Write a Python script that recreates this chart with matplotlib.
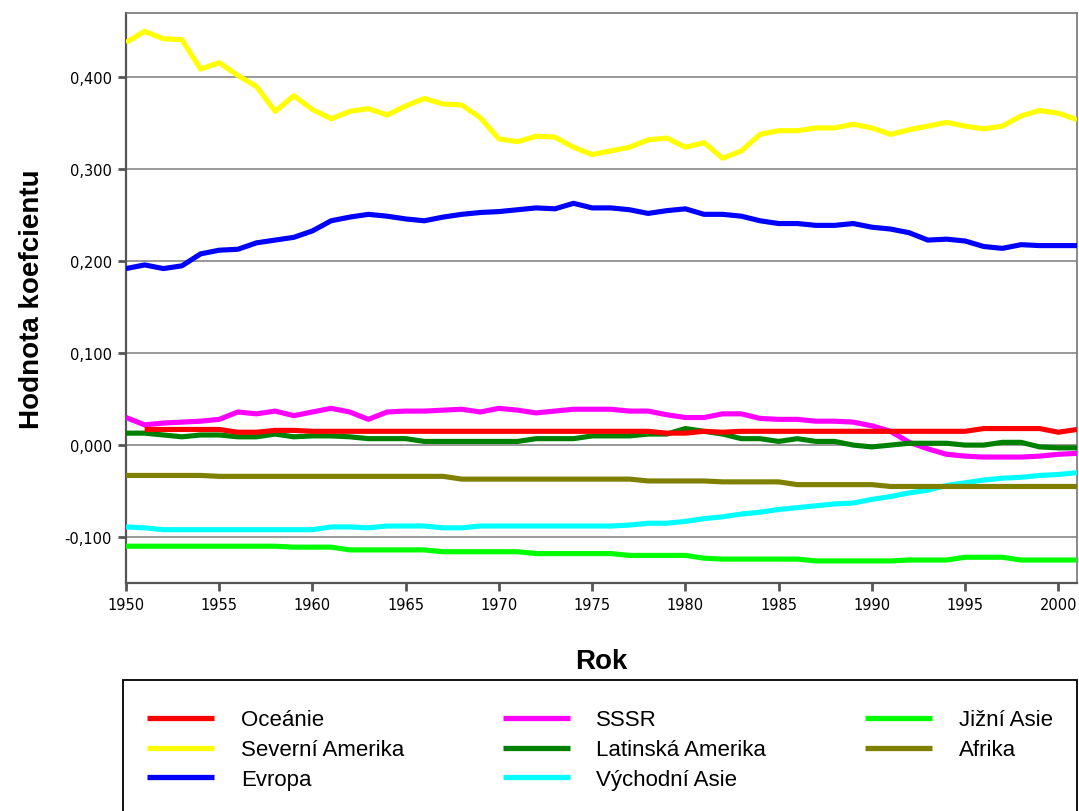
import numpy as np
import matplotlib
matplotlib.use("Agg")
import matplotlib.pyplot as plt
from matplotlib.patches import Rectangle

# roky 1950-2001
roky = np.arange(1950, 2002)

oceanie = [np.nan, 0.017, 0.017, 0.017, 0.017, 0.017, 0.014, 0.014, 0.016, 0.016,
           0.015, 0.015, 0.015, 0.015, 0.015, 0.015, 0.015, 0.015, 0.015, 0.015,
           0.015, 0.015, 0.015, 0.015, 0.015, 0.015, 0.015, 0.015, 0.015, 0.013,
           0.013, 0.015, 0.014, 0.015, 0.015, 0.015, 0.015, 0.015, 0.015, 0.015,
           0.015, 0.015, 0.015, 0.015, 0.015, 0.015, 0.018, 0.018, 0.018, 0.018,
           0.014, 0.017]
sev_amerika = [0.438, 0.450, 0.442, 0.441, 0.409, 0.416, 0.402, 0.390, 0.363, 0.380,
               0.365, 0.355, 0.363, 0.366, 0.359, 0.369, 0.377, 0.371, 0.370, 0.356,
               0.333, 0.330, 0.336, 0.335, 0.324, 0.316, 0.320, 0.324, 0.332, 0.334,
               0.324, 0.329, 0.312, 0.320, 0.338, 0.342, 0.342, 0.345, 0.345, 0.349,
               0.345, 0.338, 0.343, 0.347, 0.351, 0.347, 0.344, 0.347, 0.358, 0.364,
               0.361, 0.354]
evropa = [0.192, 0.196, 0.192, 0.195, 0.208, 0.212, 0.213, 0.220, 0.223, 0.226,
          0.233, 0.244, 0.248, 0.251, 0.249, 0.246, 0.244, 0.248, 0.251, 0.253,
          0.254, 0.256, 0.258, 0.257, 0.263, 0.258, 0.258, 0.256, 0.252, 0.255,
          0.257, 0.251, 0.251, 0.249, 0.244, 0.241, 0.241, 0.239, 0.239, 0.241,
          0.237, 0.235, 0.231, 0.223, 0.224, 0.222, 0.216, 0.214, 0.218, 0.217,
          0.217, 0.217]
sssr = [0.030, 0.022, 0.024, 0.025, 0.026, 0.028, 0.036, 0.034, 0.037, 0.032,
        0.036, 0.040, 0.036, 0.028, 0.036, 0.037, 0.037, 0.038, 0.039, 0.036,
        0.040, 0.038, 0.035, 0.037, 0.039, 0.039, 0.039, 0.037, 0.037, 0.033,
        0.030, 0.030, 0.034, 0.034, 0.029, 0.028, 0.028, 0.026, 0.026, 0.025,
        0.021, 0.015, 0.003, -0.004, -0.010, -0.012, -0.013, -0.013, -0.013, -0.012,
        -0.010, -0.009]
lat_amerika = [0.013, 0.013, 0.011, 0.009, 0.011, 0.011, 0.009, 0.009, 0.012, 0.009,
               0.010, 0.010, 0.009, 0.007, 0.007, 0.007, 0.004, 0.004, 0.004, 0.004,
               0.004, 0.004, 0.007, 0.007, 0.007, 0.010, 0.010, 0.010, 0.012, 0.012,
               0.018, 0.015, 0.012, 0.007, 0.007, 0.004, 0.007, 0.004, 0.004, 0.000,
               -0.002, 0.000, 0.002, 0.002, 0.002, 0.000, 0.000, 0.003, 0.003, -0.002,
               -0.003, -0.003]
vych_asie = [-0.089, -0.090, -0.092, -0.092, -0.092, -0.092, -0.092, -0.092, -0.092, -0.092,
             -0.092, -0.089, -0.089, -0.090, -0.088, -0.088, -0.088, -0.090, -0.090, -0.088,
             -0.088, -0.088, -0.088, -0.088, -0.088, -0.088, -0.088, -0.087, -0.085, -0.085,
             -0.083, -0.080, -0.078, -0.075, -0.073, -0.070, -0.068, -0.066, -0.064, -0.063,
             -0.059, -0.056, -0.052, -0.049, -0.044, -0.041, -0.038, -0.036, -0.035, -0.033,
             -0.032, -0.030]
jizni_asie = [-0.110, -0.110, -0.110, -0.110, -0.110, -0.110, -0.110, -0.110, -0.110, -0.111,
              -0.111, -0.111, -0.114, -0.114, -0.114, -0.114, -0.114, -0.116, -0.116, -0.116,
              -0.116, -0.116, -0.118, -0.118, -0.118, -0.118, -0.118, -0.120, -0.120, -0.120,
              -0.120, -0.123, -0.124, -0.124, -0.124, -0.124, -0.124, -0.126, -0.126, -0.126,
              -0.126, -0.126, -0.125, -0.125, -0.125, -0.122, -0.122, -0.122, -0.125, -0.125,
              -0.125, -0.125]
afrika = [-0.033, -0.033, -0.033, -0.033, -0.033, -0.034, -0.034, -0.034, -0.034, -0.034,
          -0.034, -0.034, -0.034, -0.034, -0.034, -0.034, -0.034, -0.034, -0.037, -0.037,
          -0.037, -0.037, -0.037, -0.037, -0.037, -0.037, -0.037, -0.037, -0.039, -0.039,
          -0.039, -0.039, -0.040, -0.040, -0.040, -0.040, -0.043, -0.043, -0.043, -0.043,
          -0.043, -0.045, -0.045, -0.045, -0.045, -0.045, -0.045, -0.045, -0.045, -0.045,
          -0.045, -0.045]

serie = [
    ("Oceánie", oceanie, "#ff0000"),
    ("Severní Amerika", sev_amerika, "#ffff00"),
    ("Evropa", evropa, "#0000ff"),
    ("SSSR", sssr, "#ff00ff"),
    ("Latinská Amerika", lat_amerika, "#008000"),
    ("Východní Asie", vych_asie, "#00ffff"),
    ("Jižní Asie", jizni_asie, "#00ff00"),
    ("Afrika", afrika, "#808000"),
]

yticks = [-0.1, 0.0, 0.1, 0.2, 0.3, 0.4]
ytick_labels = ["-0,100", "0,000", "0,100", "0,200", "0,300", "0,400"]
xticks = list(range(1950, 2001, 5))

fig = plt.figure(figsize=(10.79, 8.12), dpi=100)
ax = fig.add_axes([126 / 1079, 1 - 584 / 812, (1077 - 126) / 1079, (584 - 14) / 812])

for nazev, hodnoty, barva in serie:
    z = 4 if nazev == "Oceánie" else 3
    ax.plot(roky, hodnoty, color=barva, lw=3.7, label=nazev, zorder=z,
            solid_capstyle="butt")

ax.set_xlim(1950, 2001)
ax.set_ylim(-0.15, 0.47)
ax.set_yticks(yticks)
ax.set_yticklabels(ytick_labels)
ax.set_xticks(xticks)
ax.grid(axis="y", color="#999999", lw=1.4, zorder=1)
ax.set_axisbelow(True)

for s in ["left", "bottom"]:
    ax.spines[s].set_color("#555555")
    ax.spines[s].set_linewidth(1.6)
for s in ["top", "right"]:
    ax.spines[s].set_color("#777777")
    ax.spines[s].set_linewidth(1.2)
ax.tick_params(direction="out", length=6, width=2, color="#555555",
               labelsize=10.5, pad=4)

ax.set_ylabel("Hodnota koefcientu", fontsize=20, fontweight="bold",
              family="Liberation Sans", labelpad=14)
ax.set_xlabel("Rok", fontsize=20, fontweight="bold", family="Liberation Sans",
              labelpad=26)

# legenda pod grafem, rámeček je uříznutý spodním okrajem
fig.patches.append(Rectangle((123 / 1079, -0.1), (1077 - 123) / 1079, 0.1 + 1 - 681 / 812,
                             transform=fig.transFigure, fill=False,
                             edgecolor="black", lw=1.3))
h, l = ax.get_legend_handles_labels()
leg = fig.legend(h, l, ncol=3, loc="upper left",
                 bbox_to_anchor=(123 / 1079, 1 - 686 / 812, (1077 - 123) / 1079, 0),
                 mode="expand", frameon=False, handlelength=3.0, handletextpad=1.2,
                 labelspacing=0.4, borderpad=0.6,
                 prop={"family": "Liberation Sans", "size": 16})
for line in leg.get_lines():
    line.set_linewidth(3.8)

fig.savefig("out.png", dpi=100, facecolor="white")
